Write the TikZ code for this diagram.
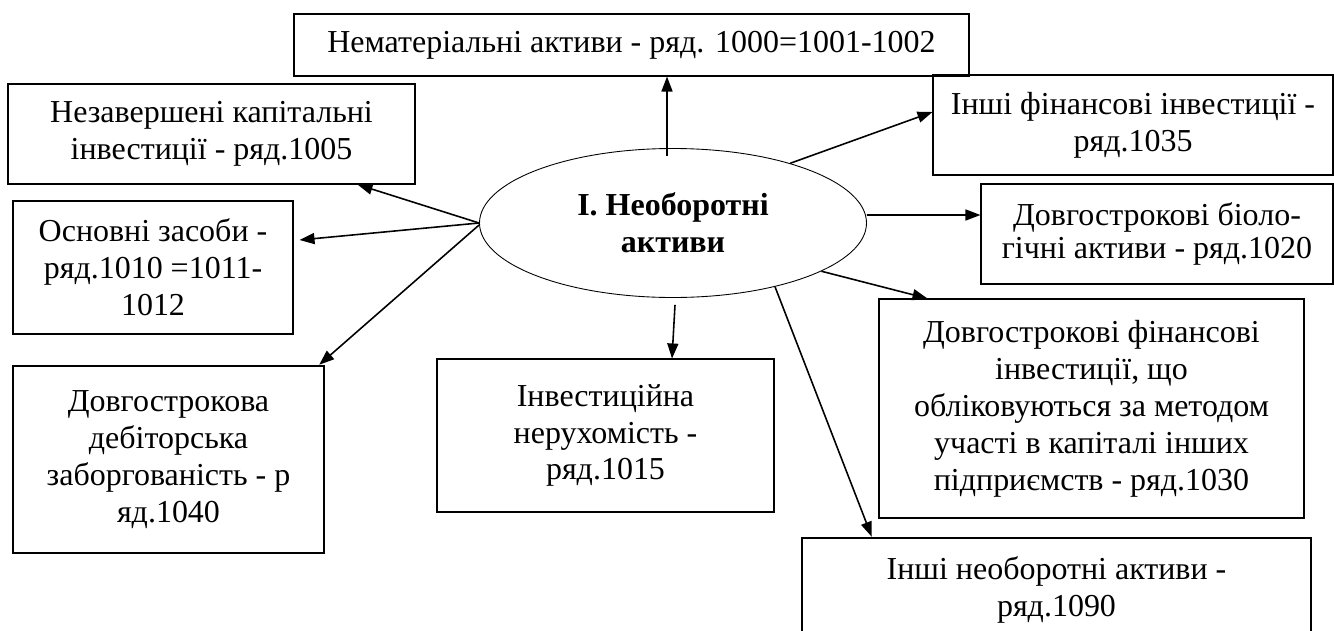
\documentclass[tikz,border=0pt]{standalone}
\usepackage{fontspec}
\setmainfont{Liberation Serif}
\usepackage{tikz}
\usetikzlibrary{shapes.geometric, arrows.meta, positioning, calc}
\newcommand{\boxfont}{\fontsize{18.2pt}{21pt}\selectfont}
\tikzstyle{box} = [draw=black, line width=0.6pt, align=center, inner sep=0pt, font=\boxfont]
\tikzstyle{thickbox} = [box, line width=1.4pt]
\tikzstyle{core} = [ellipse, draw=black, line width=0.5pt, align=center, inner sep=0pt, font=\boxfont\bfseries]
\tikzstyle{link} = [line width=0.9pt, -{Triangle[length=0.3cm, width=0.22cm]}]

\begin{document}
\begin{tikzpicture}
    \useasboundingbox (0,0) rectangle (26.68,12.6);
    \node[core, minimum width=7.74cm, minimum height=2.98cm] (core) at (13.46,8.14) {І. Необоротні\\активи};

    \node[box, minimum width=13.5cm, minimum height=1.24cm] (nemat) at (12.63,11.70) {Нематеріальні активи - ряд. 1000=1001-1002};
    \node[box, minimum width=8.14cm, minimum height=2cm] (nezav) at (4.23,9.92) {Незавершені капітальні\\інвестиції - ряд.1005};
    \node[box, minimum width=5.6cm, minimum height=2.66cm] (osnov) at (3.06,7.25) {Основні засоби -\\ряд.1010 =1011-\\1012};
    \node[thickbox, minimum width=6.22cm, minimum height=3.74cm] (dovdeb) at (3.37,3.41) {Довгострокова\\дебіторська\\заборгованість - р\\яд.1040};
    \node[box, minimum width=6.74cm, minimum height=3.06cm] (invest) at (12.11,3.89) {Інвестиційна\\нерухомість -\\ряд.1015};
    \node[box, minimum width=8cm, minimum height=2cm] (inshfin) at (22.66,10.10) {Інші фінансові інвестиції -\\ряд.1035};
    \node[box, minimum width=7.04cm, minimum height=2cm, font=\fontsize{18.2pt}{18.5pt}\selectfont] (biol) at (23.14,7.92) {Довгострокові біоло-\\гічні активи - ряд.1020};
    \node[box, minimum width=8.5cm, minimum height=4.38cm] (dovfin) at (21.83,4.43) {Довгострокові фінансові\\інвестиції, що\\обліковуються за методом\\участі в капіталі інших\\підприємств - ряд.1030};
    \node[thickbox, minimum width=10.18cm, minimum height=2.08cm] (inshneob) at (21.13,0.80) {Інші необоротні активи -\\ряд.1090};

    \coordinate (upstart) at ([xshift=-0.12cm, yshift=-0.16cm]core.north);
    \draw[link] (upstart) -- (upstart |- nemat.south);
    \draw[link] (core.27) -- ([yshift=0.26cm]inshfin.west);
    \draw[link] ([yshift=0.16cm]core.east) -- ([yshift=0.38cm]biol.west);
    \draw[link] (core.-18) -- ([xshift=0.98cm]dovfin.north west);
    \draw[link] ([xshift=0.04cm, yshift=-0.14cm]core.south) -- ([xshift=1.33cm]invest.north);
    \draw[link] (core.-32) -- ([xshift=1.42cm]inshneob.north west);
    \draw[link] (core.west) -- ([xshift=-1.16cm]nezav.south east);
    \draw[link] (core.west) -- ([xshift=0.12cm, yshift=0.55cm]osnov.east);
    \draw[link] ([yshift=-0.04cm]core.west) -- ([xshift=-0.12cm]dovdeb.north east);
\end{tikzpicture}
\end{document}
